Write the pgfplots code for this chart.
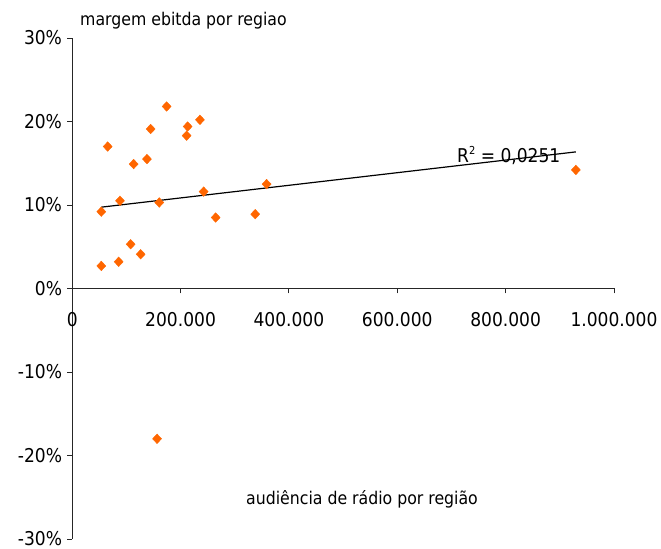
\documentclass[border=0pt]{standalone}
\usepackage{pgfplots}
\pgfplotsset{compat=1.18}
\usepackage{fontspec}
\setmainfont{DejaVu Sans Condensed}
\definecolor{mk}{HTML}{FF6600}
\begin{document}
\fontsize{19bp}{23bp}\selectfont
\begin{tikzpicture}[x=1bp,y=1bp]
\begin{axis}[
  name=ax,
  at={(0,0)}, anchor=south west,
  scale only axis,
  width=541.8bp, height=501bp,
  xmin=0, xmax=1000, ymin=-30, ymax=30,
  axis x line=middle, axis y line=left,
  axis line style={-, line width=0.9bp, black!85},
  xtick={0,200,400,600,800,1000},
  xticklabels={0,200.000,400.000,600.000,800.000,1.000.000},
  ytick={-30,-20,-10,0,10,20,30},
  yticklabels={-30\%,-20\%,-10\%,0\%,10\%,20\%,30\%},
  tick align=outside,
  major tick length=5bp,
  tick style={line width=0.9bp, black!85},
  xticklabel style={anchor=north, yshift=-12bp, font=\fontsize{19bp}{23bp}\selectfont},
  yticklabel style={anchor=east, xshift=-4bp, inner sep=1bp, font=\fontsize{19bp}{23bp}\selectfont},
  clip=false,
]
\addplot[only marks, mark=diamond*, mark size=4.8bp, mark options={fill=mk, draw=mk, line width=0.4bp, xscale=1.25}] coordinates {
(53.7,2.7) (53.7,9.2) (65.5,17.0) (85.8,3.2) (88.2,10.5) (107.9,5.3)
(113.4,14.9) (126.4,4.1) (138.0,15.5) (144.8,19.1) (156.6,-18.0)
(160.7,10.3) (174.3,21.8) (211.2,18.3) (213.1,19.4) (235.8,20.2)
(242.6,11.6) (264.8,8.5) (337.8,8.9) (358.8,12.5) (929.6,14.2)
};
\addplot[black, line width=1.2bp, no marks] coordinates {(53.7,9.74) (929.6,16.36)};
\end{axis}
\node[anchor=north, inner sep=0] at (0,226.7) {0};
\node[anchor=base west, inner sep=0] at (384.8,376) {R\raisebox{8bp}{\fontsize{11bp}{11bp}\selectfont 2}\ = 0,0251};
\node[anchor=base west, inner sep=0] at (7.8,513) {\fontsize{17.5bp}{20bp}\selectfont margem ebitda por regiao};
\node[anchor=base west, inner sep=0] at (173.8,34) {\fontsize{17.5bp}{20bp}\selectfont audiência de rádio por região};
\pgfresetboundingbox
\path[use as bounding box] (-72.2,-9.5) rectangle (588.8,539);
\end{tikzpicture}
\end{document}
